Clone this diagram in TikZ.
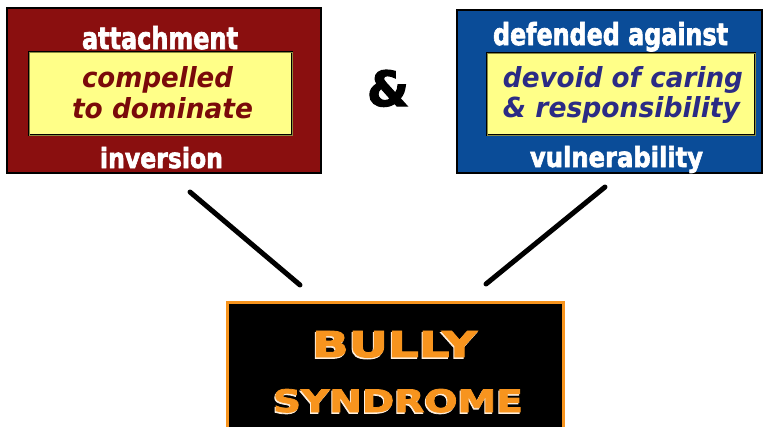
\documentclass[tikz,border=0pt]{standalone}
\usepackage{fontspec}
\setmainfont{DejaVu Sans}
\newfontfamily\heavyfont{DejaVu Sans}[BoldFeatures={FakeBold=2.5}]
\usepackage{graphicx}
\definecolor{boxred}{HTML}{8A0F0F}
\definecolor{boxblue}{HTML}{0A4C98}
\definecolor{paleyellow}{HTML}{FFFF88}
\definecolor{olive}{HTML}{8A8A40}
\definecolor{darkredtext}{HTML}{7A0A0A}
\definecolor{navytext}{HTML}{2B2B85}
\definecolor{bullyorange}{HTML}{F7941E}
\newcommand{\fitto}[3]{\resizebox{#1pt}{#2pt}{#3}}
\begin{document}
\begin{tikzpicture}[x=1pt,y=-1pt,
  outerbox/.style={draw=black,line width=2pt,inner sep=0pt},
  innerbox/.style={draw=black,line width=2pt,fill=paleyellow,inner sep=0pt,
    postaction={draw=olive,line width=0.8pt}},
  lbl/.style={inner sep=0pt,anchor=base},
  heading/.style={lbl,text=white,font=\heavyfont\bfseries},
  italred/.style={lbl,text=darkredtext,font=\bfseries\itshape},
  italblue/.style={lbl,text=navytext,font=\bfseries\itshape},
  connector/.style={line width=5pt,line cap=round},
  bigword/.style={lbl,text=bullyorange,font=\heavyfont\bfseries},
  bigshadow/.style={lbl,text=white!85!bullyorange,font=\heavyfont\bfseries}]
\useasboundingbox (0,0) rectangle (763,426);
\clip (0,0) rectangle (763,426);
% left box
\node[outerbox,fill=boxred,minimum width=314pt,minimum height=165pt] (leftbox) at (164,90.5) {};
\node[innerbox,minimum width=263pt,minimum height=83pt] (leftinner) at (160.5,93.5) {};
\node[heading] (attach) at (160,49) {\fitto{156}{23}{attachment}};
\node[heading] (invers) at (161.5,168) {\fitto{123}{21}{inversion}};
\node[italred] (comp) at (157.5,87) {\fitto{151}{21}{compelled}};
\node[italred] (dom) at (162.5,118) {\fitto{181}{21}{to dominate}};
% right box
\node[outerbox,fill=boxblue,minimum width=305pt,minimum height=163pt] (rightbox) at (609.5,91.5) {};
\node[innerbox,minimum width=268pt,minimum height=82pt] (rightinner) at (621,94) {};
\node[heading] (defend) at (610.5,45) {\fitto{235}{23}{defended against}};
\node[heading] (vuln) at (616.5,167) {\fitto{173}{21}{vulnerability}};
\node[italblue] (devoid) at (623,87) {\fitto{240}{21}{devoid of caring}};
\node[italblue] (resp) at (621.5,117) {\fitto{237}{21}{\& responsibility}};
% ampersand
\node[lbl,font=\heavyfont\bfseries] (amp) at (388,106) {\fitto{42}{36}{\&}};
% bottom box
\node[draw=bullyorange,line width=3pt,fill=black,inner sep=0pt,
  minimum width=336pt,minimum height=138pt] (bully) at (395,371) {};
\node[bigshadow] (bullysh) at (393.5,358.5) {\fitto{165}{26}{BULLY}};
\node[bigword] (bullyw) at (394.5,357) {\fitto{165}{26}{BULLY}};
\node[bigshadow] (syndsh) at (397,413.5) {\fitto{250}{23}{SYNDROME}};
\node[bigword] (syndw) at (398,412) {\fitto{250}{23}{SYNDROME}};
% connectors
\coordinate (lstart) at (190,192);
\coordinate (lend) at (300,285);
\coordinate (rstart) at (605,187);
\coordinate (rend) at (486,284);
\draw[connector] (lstart) -- (lend);
\draw[connector] (rstart) -- (rend);
\end{tikzpicture}
\end{document}
